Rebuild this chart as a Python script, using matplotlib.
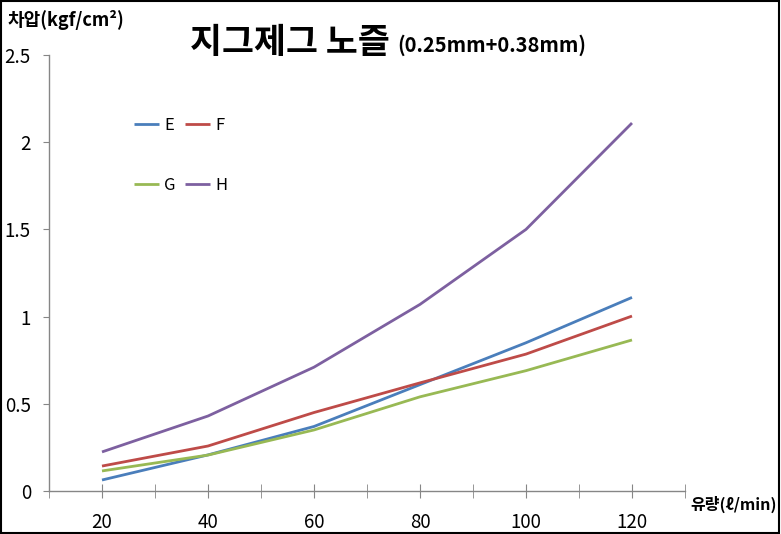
import numpy as np
import matplotlib.pyplot as plt
from matplotlib.patches import Rectangle

plt.rcParams["font.family"] = ["Noto Sans CJK KR", "DejaVu Sans"]

flow = ["20", "40", "60", "80", "100", "120"]
series_e = [0.063, 0.207, 0.37, 0.61, 0.85, 1.11]
series_f = [0.143, 0.258, 0.45, 0.62, 0.785, 1.003]
series_g = [0.115, 0.206, 0.35, 0.54, 0.69, 0.866]
series_h = [0.224, 0.43, 0.71, 1.07, 1.50, 2.11]
y_ticks = [0, 0.5, 1, 1.5, 2, 2.5]
y_tick_labels = ["0", "0.5", "1", "1.5", "2", "2.5"]

fig = plt.figure(figsize=(7.81, 5.34), dpi=100)
ax = fig.add_axes([49 / 781, 43 / 534, 636 / 781, 436 / 534])

x = np.arange(len(flow)) + 0.5
lines = {}
for vals, name, color in [
    (series_e, "E", "#4A7EBB"),
    (series_f, "F", "#BE4B48"),
    (series_g, "G", "#98B954"),
    (series_h, "H", "#7D60A0"),
]:
    (ln,) = ax.plot(x, vals, color=color, linewidth=2.0, label=name,
                    solid_capstyle="butt")
    lines[name] = ln

ax.set_xlim(0, len(flow))
ax.set_ylim(0, 2.5)
ax.set_xticks(x)
ax.set_xticklabels(flow, fontsize=13.5)
ax.set_xticks(np.arange(len(flow) + 1), minor=True)
ax.set_yticks(y_ticks)
ax.set_yticklabels(y_tick_labels, fontsize=13.5)

for s in ["top", "right"]:
    ax.spines[s].set_visible(False)
for s in ["left", "bottom"]:
    ax.spines[s].set_color("#868686")
    ax.spines[s].set_linewidth(1.0)

ax.tick_params(axis="x", which="both", direction="inout", length=10,
               color="#868686", pad=10)
ax.tick_params(axis="y", direction="out", length=4, color="#868686", pad=9)

# legend: rows E F / G H, far apart
order = ["E", "G", "F", "H"]
leg = ax.legend(handles=[lines[k] for k in order], ncol=2, loc="upper left",
                bbox_to_anchor=(0.11, 0.893), frameon=False, fontsize=12,
                handlelength=1.5, handletextpad=0.3, columnspacing=0.6,
                labelspacing=2.6)

fig.text(190 / 781, 1 - 42 / 534, "지그제그 노즐", fontsize=25, fontweight="bold",
         va="center", ha="left")
fig.text(397 / 781, 1 - 45 / 534, "(0.25mm+0.38mm)", fontsize=14.5,
         fontweight="bold", va="center", ha="left")
fig.text(8 / 781, 1 - 20 / 534, "차압(kgf/cm²)", fontsize=13,
         fontweight="bold", va="center", ha="left")
fig.text(690 / 781, 1 - 504 / 534, "유량(ℓ/min)", fontsize=11.5,
         fontweight="bold", va="center", ha="left")

fig.patches.append(Rectangle((0.001, 0.002), 0.997, 0.996,
                             transform=fig.transFigure, fill=False,
                             edgecolor="black", linewidth=1.5))

fig.savefig("out.png", dpi=100)
